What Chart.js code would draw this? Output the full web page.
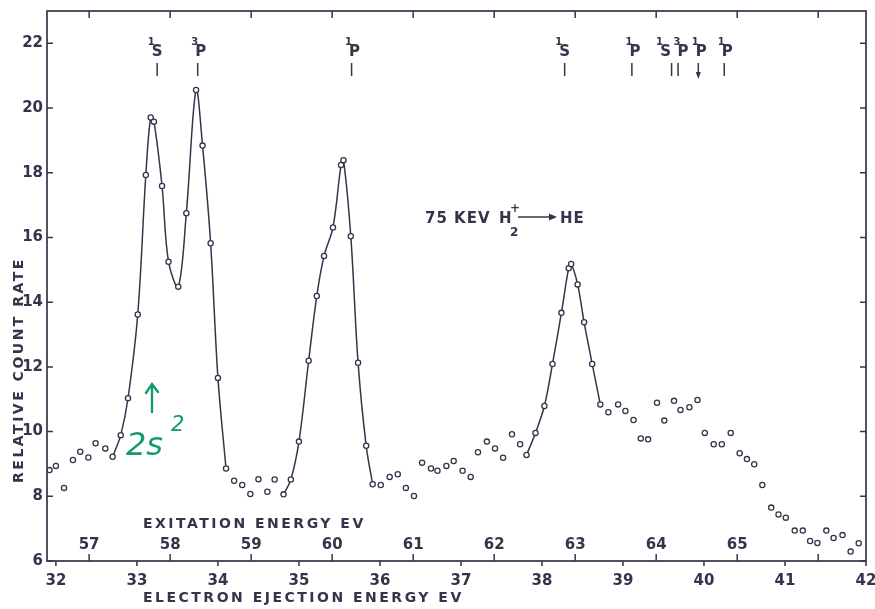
<!DOCTYPE html>
<html>
<head>
<meta charset="utf-8">
<script src="https://cdn.jsdelivr.net/npm/chart.js@4.4.1/dist/chart.umd.min.js"></script>
<style>
  html, body { margin: 0; padding: 0; background: #fff; }
  #wrap { width: 875px; height: 609px; }
</style>
</head>
<body>
<div id="wrap"><canvas id="chart" width="875" height="609"></canvas></div>
<script>
/*********************************************************
 * DATA
 *********************************************************/
const ejectionEnergy = [
  31.92, 32.00, 32.10, 32.21, 32.30, 32.40, 32.49, 32.61, 32.70, 32.80,
  32.89, 33.01, 33.11, 33.17, 33.21, 33.31, 33.39, 33.51, 33.61, 33.73,
  33.81, 33.91, 34.00, 34.10, 34.20, 34.30, 34.40, 34.50, 34.61, 34.70,
  34.81, 34.90, 35.00, 35.12, 35.22, 35.31, 35.42, 35.52, 35.55, 35.64,
  35.73, 35.83, 35.91, 36.01, 36.12, 36.22, 36.32, 36.42, 36.52, 36.63,
  36.71, 36.82, 36.91, 37.02, 37.12, 37.21, 37.32, 37.42, 37.52, 37.63,
  37.73, 37.81, 37.92, 38.03, 38.13, 38.24, 38.33, 38.36, 38.44, 38.52,
  38.62, 38.72, 38.82, 38.94, 39.03, 39.13, 39.22, 39.31, 39.42, 39.51,
  39.63, 39.71, 39.82, 39.92, 40.01, 40.12, 40.22, 40.33, 40.44, 40.53,
  40.62, 40.72, 40.83, 40.92, 41.01, 41.12, 41.22, 41.31, 41.40, 41.51,
  41.60, 41.71, 41.81, 41.91
];
const countRate = [
  8.81, 8.94, 8.26, 9.12, 9.38, 9.20, 9.64, 9.48, 9.22, 9.89,
  11.03, 13.62, 17.93, 19.71, 19.58, 17.59, 15.25, 14.48, 16.75, 20.56,
  18.84, 15.82, 11.66, 8.86, 8.48, 8.35, 8.07, 8.53, 8.14, 8.52,
  8.06, 8.52, 9.69, 12.19, 14.19, 15.43, 16.31, 18.24, 18.39, 16.04,
  12.13, 9.56, 8.37, 8.35, 8.60, 8.68, 8.26, 8.01, 9.04, 8.86,
  8.79, 8.94, 9.09, 8.79, 8.60, 9.36, 9.69, 9.48, 9.19, 9.92,
  9.61, 9.28, 9.96, 10.79, 12.09, 13.67, 15.05, 15.18, 14.55, 13.38,
  12.09, 10.84, 10.60, 10.84, 10.64, 10.36, 9.79, 9.76, 10.89, 10.34,
  10.95, 10.67, 10.75, 10.98, 9.96, 9.61, 9.61, 9.96, 9.33, 9.15,
  8.99, 8.35, 7.65, 7.44, 7.34, 6.94, 6.94, 6.62, 6.56, 6.94,
  6.71, 6.80, 6.29, 6.55
];
// stretches joined by the hand-drawn curve
const fitRanges = [[32.70, 34.10], [34.81, 35.91], [37.81, 38.72]];

const ejectionTicks = [32, 33, 34, 35, 36, 37, 38, 39, 40, 41, 42];
const countTicks = [6, 8, 10, 12, 14, 16, 18, 20, 22];
const excitationTicks = [57, 58, 59, 60, 61, 62, 63, 64, 65, 66];
const excitationLabels = [57, 58, 59, 60, 61, 62, 63, 64, 65];
const heIonization = 24.59;

// He autoionizing levels marked along the top
const levelEnergy = [33.25, 33.75, 35.65, 38.28, 39.11, 39.60, 39.68, 39.93, 40.25];
const levelMult   = ["1", "3", "1", "1", "1", "1", "3", "1", "1"];
const levelTerm   = ["S", "P", "P", "S", "P", "S", "P", "P", "P"];
const levelArrow  = [false, false, false, false, false, false, false, true, false];

/*********************************************************
 * STYLE
 *********************************************************/
const INK = "#33364a";
const GREEN = "#149a6c";
const FONT = '"DejaVu Sans", sans-serif';

/*********************************************************
 * DECOR PLUGIN (frame, inward ticks, texts)
 *********************************************************/
const decor = {
  id: "decor",
  afterDraw(chart) {
    const { ctx, chartArea: a, scales: { x, y } } = chart;
    ctx.save();
    ctx.strokeStyle = INK;
    ctx.fillStyle = INK;
    ctx.lineWidth = 1.7;
    ctx.strokeRect(a.left, a.top, a.right - a.left, a.bottom - a.top);

    ctx.lineWidth = 1.5;
    ctx.beginPath();
    countTicks.forEach(v => {
      const py = y.getPixelForValue(v);
      ctx.moveTo(a.left, py); ctx.lineTo(a.left + 6, py);
      ctx.moveTo(a.right, py); ctx.lineTo(a.right - 6, py);
    });
    ejectionTicks.forEach(v => {
      const px = x.getPixelForValue(v);
      ctx.moveTo(px, a.bottom); ctx.lineTo(px, a.bottom + 5);
    });
    excitationTicks.forEach(v => {
      const px = x.getPixelForValue(v - heIonization);
      ctx.moveTo(px, a.bottom); ctx.lineTo(px, a.bottom - 7);
      ctx.moveTo(px, a.top); ctx.lineTo(px, a.top + 7);
    });
    ctx.stroke();

    // excitation energy scale
    ctx.font = "bold 15px " + FONT;
    ctx.textAlign = "center";
    ctx.textBaseline = "middle";
    excitationLabels.forEach(v => {
      ctx.fillText(String(v), x.getPixelForValue(v - heIonization), a.bottom - 16);
    });

    // axis titles
    ctx.font = "bold 14px " + FONT;
    ctx.letterSpacing = "2.5px";
    ctx.textAlign = "left";
    ctx.fillText("EXITATION ENERGY EV", 143, 524);
    ctx.fillText("ELECTRON EJECTION ENERGY EV", 143, 598);
    ctx.save();
    ctx.translate(19, 370);
    ctx.rotate(-Math.PI / 2);
    ctx.textAlign = "center";
    ctx.fillText("RELATIVE COUNT RATE", 0, 0);
    ctx.restore();
    ctx.letterSpacing = "0px";

    // reaction label
    ctx.font = "bold 15px " + FONT;
    ctx.textAlign = "left";
    ctx.textBaseline = "alphabetic";
    ctx.letterSpacing = "1px";
    ctx.fillText("75 KEV", 425, 223);
    ctx.fillText("H", 499, 223);
    ctx.fillText("HE", 560, 223);
    ctx.letterSpacing = "0px";
    ctx.font = "bold 12px " + FONT;
    ctx.fillText("+", 510, 212);
    ctx.fillText("2", 510, 236);
    ctx.lineWidth = 1.4;
    ctx.beginPath();
    ctx.moveTo(518, 217); ctx.lineTo(551, 217);
    ctx.stroke();
    ctx.beginPath();
    ctx.moveTo(557, 217); ctx.lineTo(549, 213.5); ctx.lineTo(549, 220.5);
    ctx.closePath(); ctx.fill();

    // level markers
    levelEnergy.forEach((e, i) => {
      const px = x.getPixelForValue(e);
      let shift = levelTerm[i] === "P" ? 3 : 0;
      if (i < levelEnergy.length - 1 && levelEnergy[i + 1] - e < 0.15) shift = -6;
      if (i > 0 && e - levelEnergy[i - 1] < 0.15) shift = 5;
      ctx.font = "bold 15px " + FONT;
      ctx.textAlign = "center";
      ctx.fillText(levelTerm[i], px + shift, 56);
      ctx.font = "bold 10px " + FONT;
      ctx.fillText(levelMult[i], px + shift - 6, 45);
      ctx.lineWidth = 1.5;
      ctx.beginPath();
      ctx.moveTo(px, 63); ctx.lineTo(px, 76);
      ctx.stroke();
      if (levelArrow[i]) {
        ctx.beginPath();
        ctx.moveTo(px, 79); ctx.lineTo(px - 2.5, 72); ctx.lineTo(px + 2.5, 72);
        ctx.closePath(); ctx.fill();
      }
    });

    // handwritten note
    ctx.strokeStyle = GREEN;
    ctx.fillStyle = GREEN;
    ctx.lineWidth = 2.4;
    ctx.lineCap = "round";
    ctx.beginPath();
    ctx.moveTo(152, 412); ctx.lineTo(152, 384);
    ctx.moveTo(146, 393); ctx.lineTo(152, 384); ctx.lineTo(158, 392);
    ctx.stroke();
    ctx.font = "italic 32px " + FONT;
    ctx.textAlign = "left";
    ctx.fillText("2s", 126, 455);
    ctx.font = "italic 21px " + FONT;
    ctx.fillText("2", 171, 431);
    ctx.restore();
  }
};

/*********************************************************
 * CHART
 *********************************************************/
const points = ejectionEnergy.map((e, i) => ({ x: e, y: countRate[i] }));

const curveSets = fitRanges.map(([lo, hi]) => ({
  data: points.filter(p => p.x >= lo - 0.001 && p.x <= hi + 0.001),
  showLine: true,
  borderColor: INK,
  borderWidth: 1.5,
  pointRadius: 0,
  tension: 0.35
}));

new Chart(document.getElementById("chart"), {
  type: "scatter",
  data: {
    datasets: [{
      data: points,
      pointRadius: 2.6,
      pointBorderWidth: 1.3,
      borderColor: INK,
      backgroundColor: "#ffffff",
      pointHoverRadius: 2.6
    }, ...curveSets]
  },
  options: {
    responsive: false,
    animation: false,
    devicePixelRatio: 1,
    layout: { padding: { top: 11, right: 9, left: 0, bottom: 0 } },
    plugins: { legend: { display: false }, tooltip: { enabled: false } },
    scales: {
      x: {
        type: "linear",
        min: 31.89,
        max: 42.0,
        afterBuildTicks: s => { s.ticks = ejectionTicks.map(v => ({ value: v })); },
        afterFit: s => { s.height = 48; s.paddingLeft = 0; s.paddingRight = 0; },
        grid: { display: false, drawTicks: false },
        border: { display: false },
        ticks: { padding: 11, color: INK, font: { family: FONT, size: 15, weight: "bold" } }
      },
      y: {
        type: "linear",
        min: 6,
        max: 23,
        afterBuildTicks: s => { s.ticks = countTicks.map(v => ({ value: v })); },
        afterFit: s => { s.width = 47; s.paddingTop = 0; s.paddingBottom = 0; },
        grid: { display: false, drawTicks: false },
        border: { display: false },
        ticks: { padding: 4, color: INK, font: { family: FONT, size: 15, weight: "bold" } }
      }
    }
  },
  plugins: [decor]
});
</script>
</body>
</html>
